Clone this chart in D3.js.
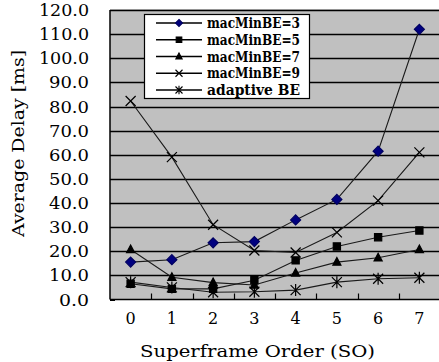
<!DOCTYPE html>
<html><head><meta charset="utf-8">
<script src="https://cdn.jsdelivr.net/npm/d3@7"></script>
<style>body{margin:0;background:#fff}svg{display:block}</style>
</head><body>
<svg id="c" width="439" height="362"></svg>
<script>
const categories = [0,1,2,3,4,5,6,7];
const be3 = [15.5, 16.5, 23.5, 24, 33, 41.5, 61.5, 112];
const be5 = [6.5, 4.4, 4.4, 8, 16.2, 22, 25.8, 28.6];
const be7 = [20.7, 9.2, 7, 6, 11, 15.5, 17.3, 20.7];
const be9 = [82.3, 59, 31, 20.3, 19.5, 27.8, 41, 61];
const adaptive = [7.2, 5, 3, 3.2, 3.9, 7.2, 8.6, 9];
const seriesNames = ["macMinBE=3","macMinBE=5","macMinBE=7","macMinBE=9","adaptive BE"];
const yTicks = [0,10,20,30,40,50,60,70,80,90,100,110,120];
const xTitle = "Superframe Order (SO)";
const yTitle = "Average Delay [ms]";

const series = [
  {name: seriesNames[0], values: be3, marker: "diamond", fill: "#000080"},
  {name: seriesNames[1], values: be5, marker: "square", fill: "#000"},
  {name: seriesNames[2], values: be7, marker: "triangle", fill: "#000"},
  {name: seriesNames[3], values: be9, marker: "x", fill: "none"},
  {name: seriesNames[4], values: adaptive, marker: "star", fill: "none"}
];

const svg = d3.select("#c");
const L = 110, R = 440, T = 10, B = 299.5;
const x = d3.scaleBand().domain(categories).range([L, R]);
const cx = d => x(d) + x.bandwidth()/2;
const y = d3.scaleLinear().domain([0,120]).range([B, T]);
const FONT = "'DejaVu Serif', 'Liberation Serif', serif";

svg.append("rect").attr("x", L).attr("y", T).attr("width", R-L).attr("height", B-T).attr("fill", "#c0c0c0");
svg.append("line").attr("x1", L).attr("x2", R).attr("y1", T).attr("y2", T).attr("stroke", "#8c8c8c").attr("stroke-width", 1);

svg.append("g").selectAll("line").data(yTicks.filter(v => v > 0)).join("line")
  .attr("x1", L).attr("x2", R).attr("y1", d => Math.round(y(d)) + 0.5).attr("y2", d => Math.round(y(d)) + 0.5)
  .attr("stroke", "#000").attr("stroke-width", 1.3);

svg.append("line").attr("x1", L).attr("x2", L).attr("y1", T).attr("y2", B).attr("stroke", "#000").attr("stroke-width", 1.5);
svg.append("line").attr("x1", L).attr("x2", R).attr("y1", B).attr("y2", B).attr("stroke", "#000").attr("stroke-width", 1.5);
svg.append("g").selectAll("line").data(yTicks).join("line")
  .attr("x1", L).attr("x2", L+5).attr("y1", d => Math.round(y(d)) + 0.5).attr("y2", d => Math.round(y(d)) + 0.5)
  .attr("stroke", "#000").attr("stroke-width", 1);
svg.append("g").selectAll("line").data(categories.slice(1)).join("line")
  .attr("x1", d => Math.round(x(d)) + 0.5).attr("x2", d => Math.round(x(d)) + 0.5)
  .attr("y1", B).attr("y2", B - 6).attr("stroke", "#000").attr("stroke-width", 1.2);

svg.append("g").selectAll("text").data(yTicks).join("text")
  .attr("x", 89).attr("y", d => y(d) + 6)
  .attr("text-anchor", "end").attr("font-family", FONT).attr("font-size", 16)
  .attr("textLength", d => d.toFixed(1).length * 10).attr("lengthAdjust", "spacingAndGlyphs")
  .attr("fill", "#000").text(d => d.toFixed(1));

svg.append("g").selectAll("text").data(categories).join("text")
  .attr("x", cx).attr("y", 324)
  .attr("text-anchor", "middle").attr("font-family", FONT).attr("font-size", 16)
  .attr("fill", "#000").text(d => d);

svg.append("text").attr("x", 140).attr("y", 357).attr("font-family", FONT).attr("font-size", 16)
  .attr("textLength", 235).attr("lengthAdjust", "spacingAndGlyphs").attr("fill", "#000").text(xTitle);
svg.append("text").attr("transform", "translate(24,237) rotate(-90)").attr("font-family", FONT).attr("font-size", 16)
  .attr("textLength", 187).attr("lengthAdjust", "spacingAndGlyphs").attr("fill", "#000").text(yTitle);

function markerPath(type, s) {
  const p = d3.path();
  if (type === "diamond") { p.moveTo(0,-s); p.lineTo(s,0); p.lineTo(0,s); p.lineTo(-s,0); p.closePath(); }
  else if (type === "square") { p.rect(-s*0.8,-s*0.8,s*1.6,s*1.6); }
  else if (type === "triangle") { p.moveTo(0,-s); p.lineTo(s*0.9,s*0.7); p.lineTo(-s*0.9,s*0.7); p.closePath(); }
  else if (type === "x") { p.moveTo(-s,-s); p.lineTo(s,s); p.moveTo(s,-s); p.lineTo(-s,s); }
  else if (type === "star") { p.moveTo(-s,-s); p.lineTo(s,s); p.moveTo(s,-s); p.lineTo(-s,s); p.moveTo(0,-s*1.2); p.lineTo(0,s*1.2); }
  return p.toString();
}

const line = d3.line().x((d,i) => cx(categories[i])).y(d => y(d));
const plot = svg.append("g");
series.forEach(s => {
  plot.append("path").attr("d", line(s.values)).attr("fill", "none").attr("stroke", "#1a1a1a").attr("stroke-width", 1.1);
});
series.forEach(s => {
  plot.append("g").selectAll("path").data(s.values).join("path")
    .attr("transform", (d,i) => `translate(${cx(categories[i])},${y(d)})`)
    .attr("d", markerPath(s.marker, s.marker === "diamond" ? 5 : (s.marker === "x" || s.marker === "star") ? 5 : 4.5))
    .attr("fill", s.fill).attr("stroke", s.marker === "diamond" ? "#000060" : "#000").attr("stroke-width", 1.2);
});

const lg = svg.append("g");
lg.append("rect").attr("x", 144.5).attr("y", 14.5).attr("width", 165).attr("height", 84)
  .attr("fill", "#fff").attr("stroke", "#000").attr("stroke-width", 1.2);
const rowY = d3.scalePoint().domain(seriesNames).range([23, 90]);
series.forEach(s => {
  const yy = rowY(s.name);
  lg.append("line").attr("x1", 156).attr("x2", 202).attr("y1", yy).attr("y2", yy).attr("stroke", "#000").attr("stroke-width", 1.4);
  lg.append("path").attr("transform", `translate(179,${yy})`)
    .attr("d", markerPath(s.marker, 3.5))
    .attr("fill", s.fill).attr("stroke", s.marker === "diamond" ? "#000060" : "#000").attr("stroke-width", 1.1);
  lg.append("text").attr("x", 207).attr("y", yy + 5).attr("font-family", FONT).attr("font-size", 14)
    .attr("font-weight", "bold").attr("textLength", 93).attr("lengthAdjust", "spacingAndGlyphs")
    .attr("fill", "#000").text(s.name);
});
</script>
</body></html>
